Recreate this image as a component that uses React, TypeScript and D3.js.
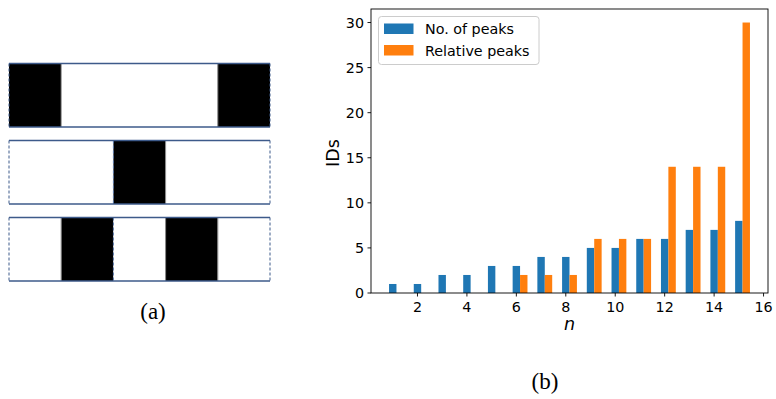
import React from "react";
import * as d3 from "d3";

const nValues = [1, 2, 3, 4, 5, 6, 7, 8, 9, 10, 11, 12, 13, 14, 15];
const noOfPeaks = [1, 1, 2, 2, 3, 3, 4, 4, 5, 5, 6, 6, 7, 7, 8];
const relativePeaks = [0, 0, 0, 0, 0, 2, 2, 2, 6, 6, 6, 14, 14, 14, 30];
const xTicks = [2, 4, 6, 8, 10, 12, 14, 16];
const yTicks = [0, 5, 10, 15, 20, 25, 30];
const seriesNames = ["No. of peaks", "Relative peaks"];
const seriesColors = ["#1f77b4", "#ff7f0e"];

// left panel patterns (1 = black cell)
const patterns = [
  [1, 0, 0, 0, 1],
  [0, 0, 1, 0, 0],
  [0, 1, 0, 1, 0],
];

const W = 776;
const H = 399;

export default function App() {
  const left = 371, right = 768, top = 9, bottom = 293;
  const x = d3.scaleLinear().domain([0.12, 16.18]).range([left, right]);
  const y = d3.scaleLinear().domain([0, 31.5]).range([bottom, top]);
  const bw = 0.3;

  const pX = d3.scaleLinear().domain([0, 5]).range([9, 270]);
  const rowTops = [63.5, 140.5, 217.5];
  const rowH = 63.5;

  const font = "'DejaVu Sans', sans-serif";
  const fs = 14.3;

  return (
    <svg width={W} height={H} style={{ position: "absolute", left: 0, top: 0, background: "#fff" }}>
      {/* Panel (a) */}
      {patterns.map((row, ri) => (
        <g key={ri}>
          {row.map((c, ci) => (
            <rect key={ci} x={pX(ci)} y={rowTops[ri]} width={pX(ci + 1) - pX(ci)} height={rowH}
              fill={c ? "#000" : "#fff"} />
          ))}
          {row.slice(1).map((c, ci) =>
            c !== row[ci] ? (
              <line key={"d" + ci} x1={pX(ci + 1)} x2={pX(ci + 1)} y1={rowTops[ri]} y2={rowTops[ri] + rowH}
                stroke={ci + 1 === 2 && ri > 0 ? "#5a78a8" : "#888"} strokeWidth={1}
                strokeDasharray={ci + 1 === 2 && ri > 0 ? "3,2" : undefined} />
            ) : null
          )}
          <line x1={pX(0)} x2={pX(5)} y1={rowTops[ri]} y2={rowTops[ri]} stroke="#3d5a8a" strokeWidth={1.6} />
          <line x1={pX(0)} x2={pX(5)} y1={rowTops[ri] + rowH} y2={rowTops[ri] + rowH} stroke="#3d5a8a" strokeWidth={1.6} />
          <line x1={pX(0)} x2={pX(0)} y1={rowTops[ri]} y2={rowTops[ri] + rowH} stroke="#3d5a8a" strokeWidth={1} strokeDasharray="3,2" />
          <line x1={pX(5)} x2={pX(5)} y1={rowTops[ri]} y2={rowTops[ri] + rowH} stroke="#3d5a8a" strokeWidth={1} strokeDasharray="3,2" />
        </g>
      ))}
      <text x={153} y={319} textAnchor="middle" fontFamily="'Liberation Serif', serif" fontSize={23}>(a)</text>

      {/* Panel (b) */}
      <g>
        {nValues.map((n, i) => (
          <rect key={"b" + n} x={x(n - bw / 2)} y={y(noOfPeaks[i])} width={x(n + bw / 2) - x(n - bw / 2)}
            height={y(0) - y(noOfPeaks[i])} fill={seriesColors[0]} />
        ))}
        {nValues.map((n, i) => (
          <rect key={"o" + n} x={x(n + bw / 2)} y={y(relativePeaks[i])} width={x(n + 1.5 * bw) - x(n + bw / 2)}
            height={y(0) - y(relativePeaks[i])} fill={seriesColors[1]} />
        ))}
        <rect x={left} y={top} width={right - left} height={bottom - top} fill="none" stroke="#000" strokeWidth={0.9} />
        {xTicks.map((t) => (
          <g key={"xt" + t}>
            <line x1={x(t)} x2={x(t)} y1={bottom} y2={bottom + 3.5} stroke="#000" strokeWidth={0.9} />
            <text x={x(t)} y={bottom + 18.5} textAnchor="middle" fontFamily={font} fontSize={fs} fill="#000">{t}</text>
          </g>
        ))}
        {yTicks.map((t) => (
          <g key={"yt" + t}>
            <line x1={left - 3.5} x2={left} y1={y(t)} y2={y(t)} stroke="#000" strokeWidth={0.9} />
            <text x={left - 7} y={y(t)} dy="0.36em" textAnchor="end" fontFamily={font} fontSize={fs} fill="#000">{t}</text>
          </g>
        ))}
        <text transform={`translate(339,${(top + bottom) / 2 + 2}) rotate(-90)`} textAnchor="middle"
          fontFamily={font} fontSize={17.5} fill="#000">IDs</text>
        <text x={(left + right) / 2} y={330} textAnchor="middle" fontFamily={font} fontStyle="italic"
          fontSize={17.5} fill="#000">n</text>

        {/* Legend */}
        <rect x={378.5} y={16.5} width={160.5} height={48} rx={3} fill="#fff" fillOpacity={0.8}
          stroke="#ccc" strokeWidth={1} />
        {seriesNames.map((s, i) => (
          <g key={s}>
            <rect x={384} y={23.5 + i * 21.5} width={29.5} height={10.5} fill={seriesColors[i]} />
            <text x={425} y={34 + i * 21.5} fontFamily={font} fontSize={fs} fill="#000">{s}</text>
          </g>
        ))}
      </g>
      <text x={545} y={389} textAnchor="middle" fontFamily="'Liberation Serif', serif" fontSize={23}>(b)</text>
    </svg>
  );
}
